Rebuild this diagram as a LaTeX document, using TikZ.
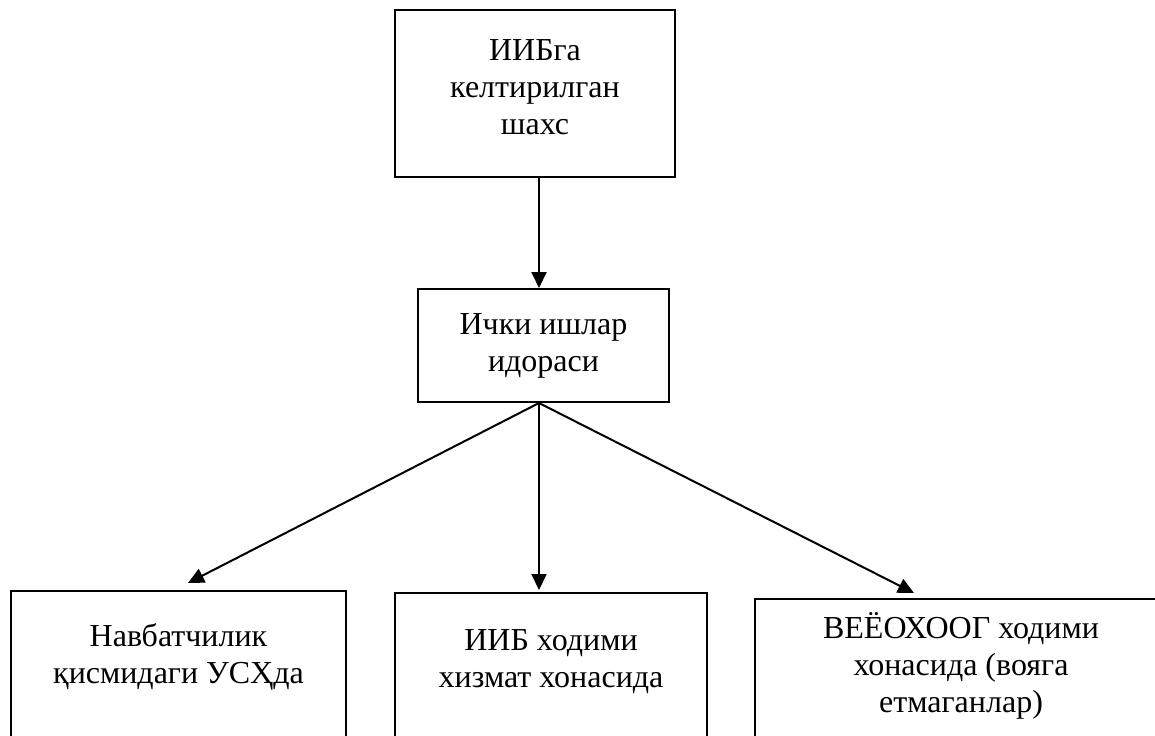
\documentclass[tikz,border=0pt]{standalone}
\usepackage{fontspec}
\setmainfont{Liberation Serif}
\usetikzlibrary{positioning,arrows.meta}
\tikzset{
  box/.style={draw,line width=1pt,align=center,inner xsep=0pt,
    font=\fontsize{16}{18.5}\selectfont},
  topbox/.style={box,anchor=north,text depth=60pt},
  arr/.style={-{Triangle[length=8pt,width=7.5pt]},line width=1pt}
}
\begin{document}
\begin{tikzpicture}[x=0.5pt,y=-0.5pt]
\useasboundingbox (0,0) rectangle (1155,735);
\clip (0,0) rectangle (1155,735);
\coordinate (axis) at (539,0);
% upper part
\node[box,minimum width=140pt,minimum height=83.5pt,text depth=6pt] (shaxs) at (535,93.5) {ИИБга\\келтирилган\\шахс};
\node[box,minimum width=125.5pt,minimum height=56.5pt] (idora) at (543.5,345.5) {Ички ишлар\\идораси};
% lower boxes, cut off at the page edge
\node[topbox,minimum width=167.5pt,inner ysep=16.4pt] (navbat) at (178.5,590) {Навбатчилик\\қисмидаги УСҲда};
\node[topbox,minimum width=156pt,inner ysep=18.4pt] (xizmat) at (551,592) {ИИБ ходими\\хизмат хонасида};
\node[topbox,minimum width=206pt,inner ysep=6.9pt] (voyaga) at (961,598) {ВЕЁОХООГ ходими\\хонасида (вояга\\етмаганлар)};
% arrows
\draw[arr] (shaxs.south -| axis) -- (idora.north -| axis);
\draw[arr] (idora.south -| axis) -- ([xshift=4.75pt,yshift=3.5pt]navbat.north);
\draw[arr,shorten >=1pt] (idora.south -| axis) -- (xizmat.north -| axis);
\draw[arr] (idora.south -| axis) -- ([xshift=-23.5pt,yshift=2.5pt]voyaga.north);
\end{tikzpicture}
\end{document}
